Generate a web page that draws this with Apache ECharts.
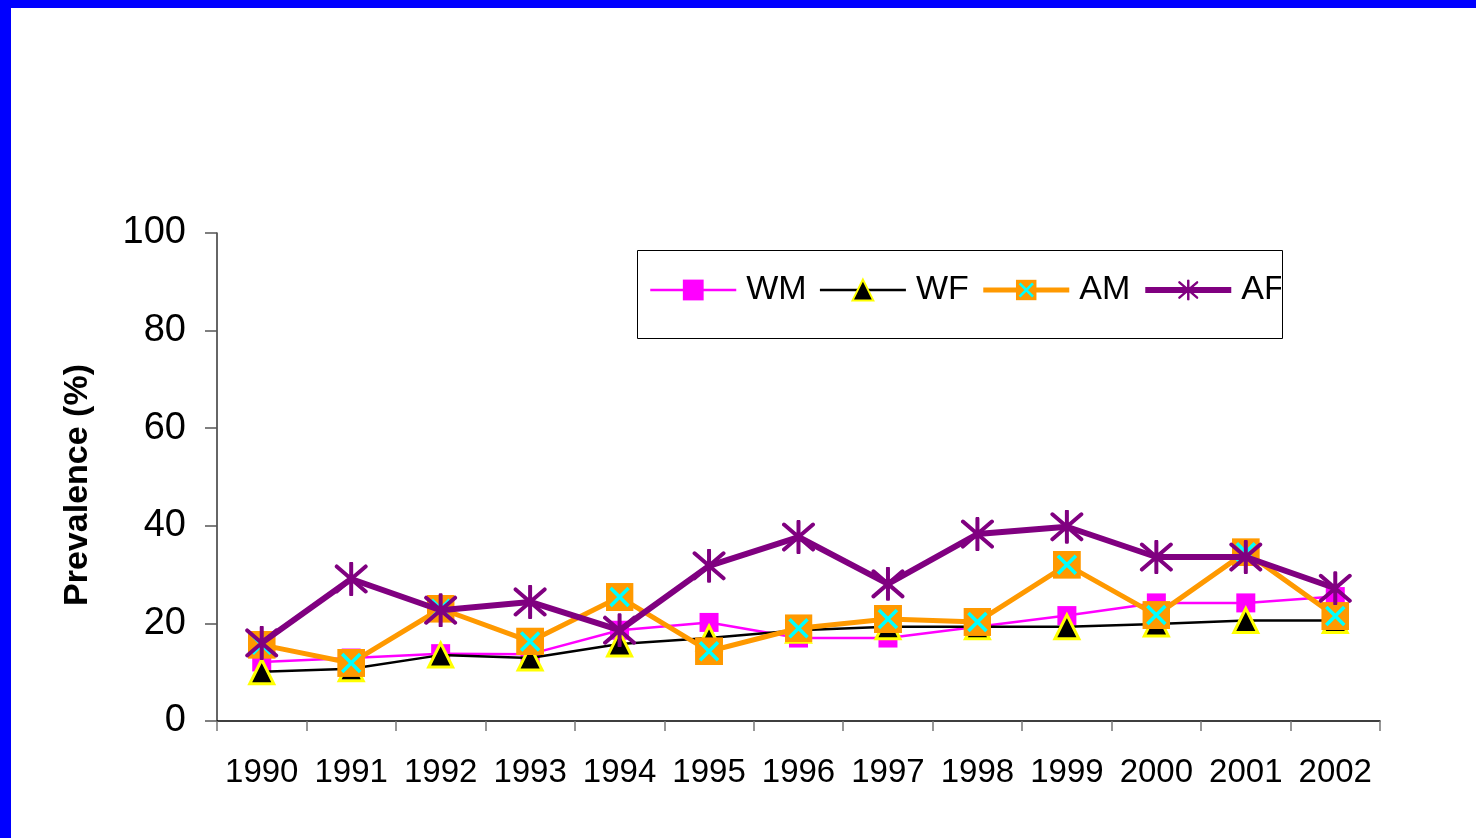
<!DOCTYPE html>
<html>
<head>
<meta charset="utf-8">
<script src="https://cdn.jsdelivr.net/npm/echarts@6/dist/echarts.min.js"></script>
<style>
html,body{margin:0;padding:0;background:#fff;}
#c{width:1476px;height:838px;}
</style>
</head>
<body>
<div id="c"></div>
<script>
const categories = ['1990','1991','1992','1993','1994','1995','1996','1997','1998','1999','2000','2001','2002'];
const seriesNames = ['WM','WF','AM','AF'];
const wmValues = [12.1, 12.9, 13.8, 13.7, 18.6, 20.2, 17.0, 17.0, 19.3, 21.6, 24.2, 24.2, 25.5];
const wfValues = [10.1, 10.7, 13.5, 12.9, 15.8, 17.0, 18.6, 19.3, 19.3, 19.3, 19.9, 20.6, 20.6];
const amValues = [15.6, 11.9, 23.0, 16.3, 25.4, 14.3, 19.0, 20.9, 20.3, 32.0, 21.7, 34.6, 21.5];
const afValues = [16.0, 29.1, 22.7, 24.4, 18.6, 31.8, 37.7, 28.1, 38.3, 39.8, 33.6, 33.6, 27.2];
const yTicks = {min: 0, max: 100, interval: 20};

const FONT = '"Liberation Sans", Arial, sans-serif';
const lineWidths = {WM: 2.5, WF: 2.5, AM: 5, AF: 6};

function svgUri(svg) {
  return 'image://data:image/svg+xml;charset=utf-8,' + encodeURIComponent(svg);
}
const amSymbol = svgUri('<svg xmlns="http://www.w3.org/2000/svg" width="28" height="28" viewBox="0 0 28 28">' +
  '<rect x="0" y="0" width="28" height="28" fill="#FF9900"/>' +
  '<path d="M5 5 L23 23 M23 5 L5 23" stroke="#00FFFF" stroke-width="3.5" fill="none"/></svg>');
const afSymbol = svgUri('<svg xmlns="http://www.w3.org/2000/svg" width="34" height="34" viewBox="0 0 34 34">' +
  '<path d="M17 1.5 L17 32.5 M2.5 4.5 L31.5 29.5 M31.5 4.5 L2.5 29.5" stroke="#800080" stroke-width="4" fill="none" stroke-linecap="round"/></svg>');

const chart = echarts.init(document.getElementById('c'), null, {renderer: 'canvas'});
chart.setOption({
  animation: false,
  backgroundColor: '#ffffff',
  textStyle: {fontFamily: FONT},
  graphic: [
    {type: 'rect', left: 0, top: 0, shape: {width: 11, height: 838}, style: {fill: '#0000FF'}, z: 200},
    {type: 'rect', left: 0, top: 0, shape: {width: 1476, height: 8}, style: {fill: '#0000FF'}, z: 200},
    {type: 'rect', left: 635, top: 248, shape: {width: 645, height: 88}, style: {fill: 'none', stroke: '#000', lineWidth: 1}, z: 150},
    {type: 'rect', left: 1281, top: 247, shape: {width: 120, height: 92}, style: {fill: '#fff'}, z: 140}
  ],
  grid: {left: 217, right: 96, top: 233, bottom: 117, containLabel: false},
  legend: {
    left: 636, top: 249,
    padding: [24, 0, 27, 13],
    itemWidth: 86, itemHeight: 26, itemGap: 12,
    data: seriesNames.map(n => ({name: n, lineStyle: {width: lineWidths[n]}})),
    textStyle: {fontSize: 34, color: '#000', fontFamily: FONT, padding: [0, 0, 0, 5]},
    z: 10
  },
  xAxis: {
    type: 'category',
    data: categories,
    boundaryGap: true,
    axisLine: {lineStyle: {color: '#000', width: 1.5}},
    axisTick: {show: true, length: 10, inside: false, lineStyle: {color: '#777', width: 1.5}},
    axisLabel: {fontSize: 33, color: '#000', margin: 35, fontFamily: FONT, interval: 0},
    splitLine: {show: false}
  },
  yAxis: {
    type: 'value',
    min: yTicks.min, max: yTicks.max, interval: yTicks.interval,
    name: 'Prevalence (%)',
    nameLocation: 'middle',
    nameGap: 122,
    nameRotate: 90,
    nameTextStyle: {fontSize: 34, fontWeight: 'bold', color: '#000', fontFamily: FONT, padding: [0, 16, 0, 0]},
    axisLine: {show: true, lineStyle: {color: '#333', width: 1.5}},
    axisTick: {show: true, length: 12, inside: false, lineStyle: {color: '#555', width: 1.5}},
    axisLabel: {fontSize: 38, color: '#000', margin: 31, fontFamily: FONT},
    splitLine: {show: false}
  },
  series: [
    {
      name: 'WM', type: 'line', data: wmValues,
      symbol: 'rect', symbolSize: 19,
      lineStyle: {color: '#FF00FF', width: lineWidths.WM},
      itemStyle: {color: '#FF00FF'},
      z: 2
    },
    {
      name: 'WF', type: 'line', data: wfValues,
      symbol: 'triangle', symbolSize: 24,
      lineStyle: {color: '#000000', width: lineWidths.WF},
      itemStyle: {color: '#000000', borderColor: '#FFFF00', borderWidth: 3},
      z: 3
    },
    {
      name: 'AM', type: 'line', data: amValues,
      symbol: amSymbol, symbolSize: 28,
      lineStyle: {color: '#FF9900', width: lineWidths.AM},
      itemStyle: {color: '#FF9900'},
      z: 4
    },
    {
      name: 'AF', type: 'line', data: afValues,
      symbol: afSymbol, symbolSize: 34,
      lineStyle: {color: '#800080', width: lineWidths.AF},
      itemStyle: {color: '#800080'},
      z: 5
    }
  ]
});
</script>
</body>
</html>
